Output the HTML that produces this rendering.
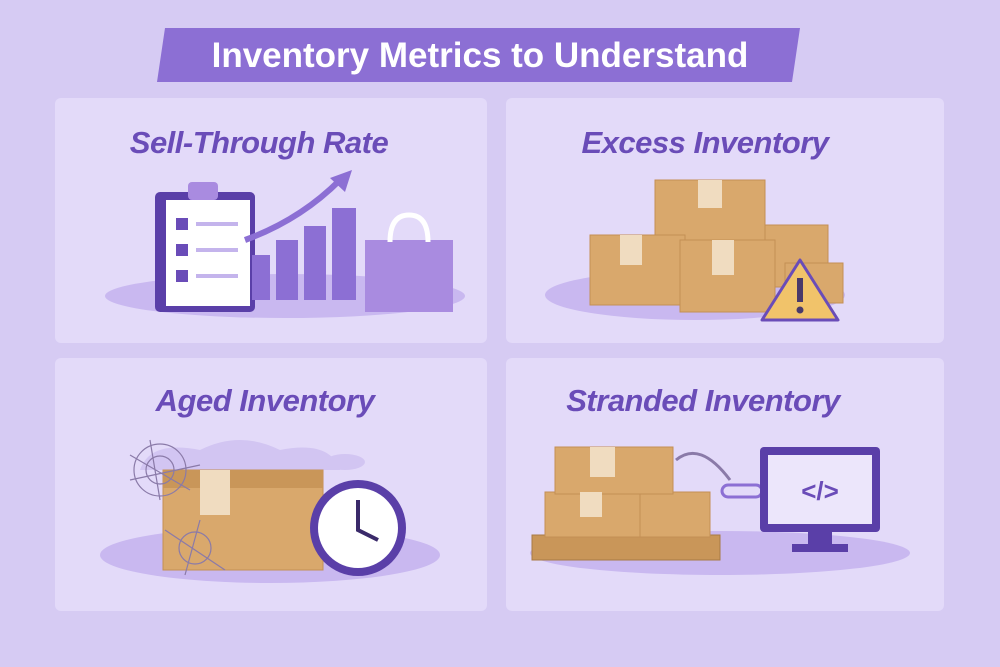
<!DOCTYPE html>
<html><head><meta charset="utf-8"><style>
html,body{margin:0;padding:0;background:#d6cbf3;}
svg{display:block}
.t{font-family:"Liberation Sans",sans-serif;font-weight:bold;fill:#6a4cb8;font-size:31px;text-anchor:middle;font-style:italic;letter-spacing:-0.5px}
</style></head><body>
<svg width="1000" height="667" viewBox="0 0 1000 667" xmlns="http://www.w3.org/2000/svg">
<rect width="1000" height="667" fill="#d6cbf3"/>
<!-- banner -->
<path d="M165 28 L800 28 L792 82 L157 82 Z" fill="#8c6fd4"/>
<text x="480" y="67" font-family="Liberation Sans,sans-serif" font-weight="bold" font-size="35" fill="#fff" text-anchor="middle">Inventory Metrics to Understand</text>
<!-- panels -->
<rect x="55" y="98" width="432" height="245" rx="6" fill="#e3daf9"/>
<rect x="506" y="98" width="438" height="245" rx="6" fill="#e3daf9"/>
<rect x="55" y="358" width="432" height="253" rx="6" fill="#e3daf9"/>
<rect x="506" y="358" width="438" height="253" rx="6" fill="#e3daf9"/>
<text class="t" x="259" y="153">Sell-Through Rate</text>
<text class="t" x="705" y="153">Excess Inventory</text>
<text class="t" x="265" y="411">Aged Inventory</text>
<text class="t" x="703" y="411">Stranded Inventory</text>

<!-- TL illustration -->
<ellipse cx="285" cy="296" rx="180" ry="22" fill="#c9b8f0"/>
<rect x="155" y="192" width="100" height="120" rx="5" fill="#5a3fa8"/>
<rect x="166" y="200" width="84" height="106" fill="#fff"/>
<rect x="188" y="182" width="30" height="18" rx="4" fill="#a98be0"/>
<g fill="#6a4cb8"><rect x="176" y="218" width="12" height="12"/><rect x="176" y="244" width="12" height="12"/><rect x="176" y="270" width="12" height="12"/></g>
<g fill="#c4b4ec"><rect x="196" y="222" width="42" height="4"/><rect x="196" y="248" width="42" height="4"/><rect x="196" y="274" width="42" height="4"/></g>
<g fill="#8c6fd4"><rect x="252" y="255" width="18" height="45"/><rect x="276" y="240" width="22" height="60"/><rect x="304" y="226" width="22" height="74"/><rect x="332" y="208" width="24" height="92"/></g>
<path d="M245 240 Q300 220 340 180" stroke="#8c6fd4" stroke-width="6" fill="none"/>
<path d="M352 170 L330 178 L345 192 Z" fill="#8c6fd4"/>
<rect x="365" y="240" width="88" height="72" fill="#a98be0"/>
<path d="M390 242 Q390 215 409 215 Q428 215 428 242" stroke="#fff" stroke-width="5" fill="none"/>

<!-- TR illustration: boxes -->
<ellipse cx="695" cy="295" rx="150" ry="25" fill="#c9b8f0"/>
<g fill="#d9a86c" stroke="#c48f55" stroke-width="1">
<rect x="760" y="225" width="68" height="62"/>
<rect x="785" y="263" width="58" height="40"/>
<rect x="655" y="180" width="110" height="62"/>
<rect x="590" y="235" width="95" height="70"/>
<rect x="680" y="240" width="95" height="72"/>
</g>
<g fill="#f0dcc0"><rect x="698" y="180" width="24" height="28"/><rect x="620" y="235" width="22" height="30"/><rect x="712" y="240" width="22" height="35"/></g>
<path d="M800 260 L838 320 L762 320 Z" fill="#f1c36a" stroke="#6a4cb8" stroke-width="3" stroke-linejoin="round"/>
<rect x="797" y="278" width="6" height="24" fill="#4a3a6a"/><circle cx="800" cy="310" r="3.5" fill="#4a3a6a"/>

<!-- BL illustration -->
<ellipse cx="270" cy="555" rx="170" ry="28" fill="#c9b8f0"/>
<path d="M140 470 Q150 440 200 450 Q240 430 280 450 Q330 440 340 470 Z" fill="#d2c5f2"/>
<ellipse cx="345" cy="462" rx="20" ry="8" fill="#d2c5f2"/>
<rect x="163" y="470" width="160" height="100" fill="#d9a86c" stroke="#c48f55"/>
<rect x="163" y="470" width="160" height="18" fill="#c99659"/>
<rect x="200" y="470" width="30" height="45" fill="#f0dcc0"/>
<g stroke="#8a7aa8" stroke-width="1.2" fill="none"><path d="M130 455 L190 490 M150 440 L160 500 M130 480 L200 465"/><circle cx="160" cy="470" r="14"/><circle cx="160" cy="470" r="26"/><path d="M165 530 L225 570 M200 520 L185 575"/><circle cx="195" cy="548" r="16"/></g>
<circle cx="358" cy="528" r="48" fill="#5a3fa8"/>
<circle cx="358" cy="528" r="40" fill="#fff"/>
<path d="M358 500 L358 530 L378 540" stroke="#3a2a6a" stroke-width="4" fill="none"/>

<!-- BR illustration -->
<ellipse cx="720" cy="553" rx="190" ry="22" fill="#c9b8f0"/>
<rect x="532" y="535" width="188" height="25" fill="#c99659" stroke="#a87a45"/>
<rect x="545" y="492" width="95" height="45" fill="#d9a86c" stroke="#c48f55"/>
<rect x="640" y="492" width="70" height="45" fill="#d9a86c" stroke="#c48f55"/>
<rect x="555" y="447" width="118" height="47" fill="#d9a86c" stroke="#c48f55"/>
<g fill="#f0dcc0"><rect x="590" y="447" width="25" height="30"/><rect x="580" y="492" width="22" height="25"/></g>
<path d="M676 460 Q700 440 730 480" stroke="#8a7aa8" stroke-width="3" fill="none"/>
<rect x="722" y="485" width="40" height="12" rx="6" fill="none" stroke="#8c6fd4" stroke-width="3"/>
<rect x="760" y="447" width="120" height="85" rx="4" fill="#5a3fa8"/>
<rect x="768" y="455" width="104" height="69" fill="#ece6fb"/>
<text x="820" y="500" font-family="Liberation Sans,sans-serif" font-weight="bold" font-size="26" fill="#6a4cb8" text-anchor="middle">&lt;/&gt;</text>
<rect x="808" y="532" width="24" height="14" fill="#5a3fa8"/>
<rect x="792" y="544" width="56" height="8" fill="#5a3fa8"/>
</svg>
</body></html>
